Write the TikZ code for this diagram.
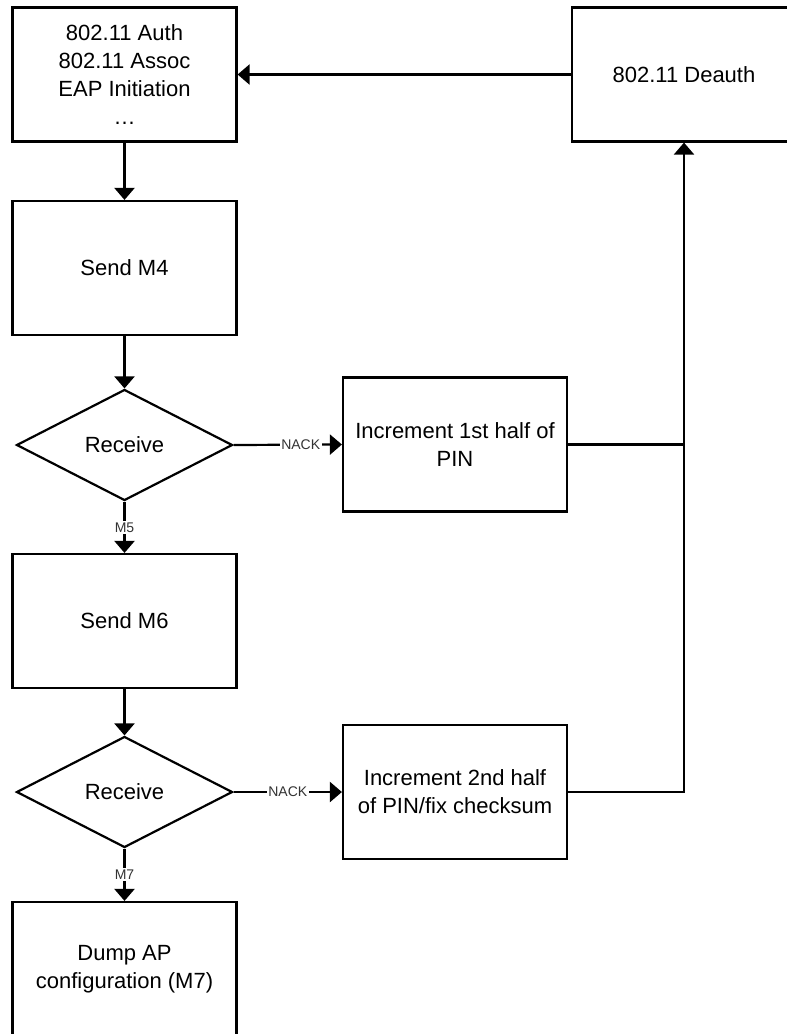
\documentclass[tikz,border=0pt]{standalone}
\usepackage{fontspec}
\setmainfont{Liberation Sans}
\usetikzlibrary{shapes.geometric,arrows.meta}
\tikzset{
  stepbox/.style={draw, line width=2.2pt, rectangle, minimum width=224pt, minimum height=134pt,
    inner sep=0pt, align=center, font=\fontsize{22}{28}\selectfont},
  decision/.style={draw, line width=2.2pt, diamond, minimum width=216pt, minimum height=111pt,
    inner sep=0pt, aspect=2, font=\fontsize{22}{28}\selectfont},
  flow/.style={line width=2.2pt, -{Triangle[width=20pt,length=12pt]}},
  plain/.style={line width=2.2pt},
  tag/.style={fill=white, inner sep=1.5pt, text=black!80, font=\fontsize{14}{15}\selectfont}
}
\begin{document}
\begin{tikzpicture}[x=1pt, y=-1pt]
  \useasboundingbox (0,0) rectangle (787,1034);
  \clip (0,0) rectangle (787,1034);

  % process steps
  \node[stepbox] (init)   at (124.5,74.5) {802.11 Auth\\802.11 Assoc\\EAP Initiation\\\dots};
  \node[stepbox] (deauth) at (684,74.5) {802.11 Deauth};
  \node[stepbox] (m4)     at (124.5,268)  {Send M4};
  \node[decision] (rx1)   at (124.5,445)  {Receive};
  \node[stepbox] (inc1)   at (455,444.5) {Increment 1st half of\\PIN};
  \node[stepbox] (m6)     at (124.5,621)  {Send M6};
  \node[decision] (rx2)   at (124.5,792)  {Receive};
  \node[stepbox] (inc2)   at (455,792)  {Increment 2nd half\\of PIN/fix checksum};
  \node[stepbox] (dump)   at (124.5,969)  {Dump AP\\configuration (M7)};

  % main sequence
  \draw[flow] (deauth.west) -- (deauth.west -| init.east);
  \draw[flow] (init.south) -- (m4.north);
  \draw[flow] (m4.south) -- (rx1.north);
  \draw[flow] (rx1.east) -- node[tag, pos=0.62] {NACK} (inc1.west);
  \draw[flow] (rx1.south) -- node[tag, pos=0.5] {M5} (m6.north);
  \draw[flow] (m6.south) -- (rx2.north);
  \draw[flow] (rx2.east) -- node[tag, pos=0.5] {NACK} (inc2.west);
  \draw[flow] (rx2.south) -- node[tag, pos=0.5] {M7} (dump.north);

  % retry loop back to deauthentication
  \coordinate (join1) at (inc1.east -| deauth.south);
  \draw[plain] (inc1.east) -- (join1);
  \draw[flow] (inc2.east) -| (deauth.south);
\end{tikzpicture}
\end{document}
